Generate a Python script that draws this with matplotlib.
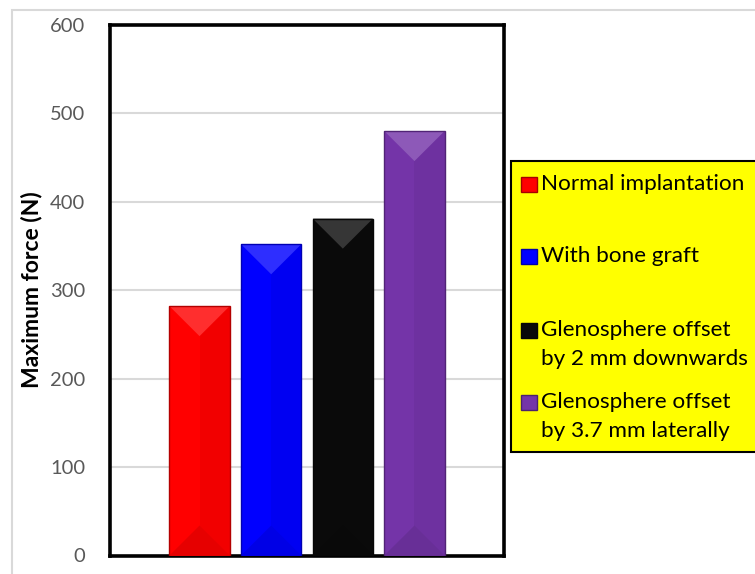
import matplotlib
matplotlib.use("Agg")
import matplotlib.pyplot as plt
import matplotlib.patches as mpatches
import matplotlib.colors as mcolors
import numpy as np

# ---- data ----
categories = ["Normal implantation", "With bone graft",
              "Glenosphere offset\nby 2 mm downwards",
              "Glenosphere offset\nby 3.7 mm laterally"]
values = [282, 352, 381, 480]
colors = ["#FF0000", "#0000FF", "#0A0A0A", "#7434A8"]
yticks = [0, 100, 200, 300, 400, 500, 600]
ylabel = "Maximum force (N)"

W, H = 755, 574
plt.rcParams['font.family'] = ['Lato', 'DejaVu Sans']
fig = plt.figure(figsize=(W / 100, H / 100), dpi=100)

def fx(px):
    return px / W

def fy(py):
    return 1 - py / H

# outer chart border (light gray, cropped)
fig.patches.append(mpatches.Rectangle((fx(12), fy(600)), fx(800), fy(10) - fy(600),
                                      transform=fig.transFigure, fill=False,
                                      edgecolor="#D9D9D9", lw=1.5, zorder=0))

ax = fig.add_axes([fx(110), fy(555.5), fx(504) - fx(110), fy(25) - fy(555.5)])
x = np.arange(len(values))
bw = 0.84
bars = ax.bar(x, values, width=bw, color=colors, zorder=3, linewidth=0)
ax.set_xlim(-1.25, 4.25)
ax.set_ylim(0, 600)
ax.set_yticks(yticks)
ax.set_yticklabels([str(t) for t in yticks], color="#595959", fontsize=14.5)
ax.tick_params(axis='y', length=0, pad=18)
ax.set_xticks([])
ax.yaxis.grid(True, color="#D9D9D9", lw=1.5, zorder=0)
ax.set_axisbelow(True)
for s in ax.spines.values():
    s.set_linewidth(2.6)
    s.set_color("black")

def mix(c, other, t):
    a = np.array(mcolors.to_rgb(c))
    b = np.array(mcolors.to_rgb(other))
    return tuple(a * (1 - t) + b * t)

# bevel-like shading derived from each bar's geometry
ax_h_px = (fy(25) - fy(555.5)) * H
d = 30 * 600 / ax_h_px
for rect, c in zip(bars, colors):
    x0 = rect.get_x(); x1 = x0 + rect.get_width(); xc = (x0 + x1) / 2
    h = rect.get_height()
    ax.add_patch(mpatches.Polygon([(xc, 0), (xc, h), (x1, h), (x1, 0)],
                                  closed=True, color=mix(c, "black", 0.05), lw=0, zorder=3.1))
    ax.add_patch(mpatches.Polygon([(x0, 0), (x1, 0), (xc, d)],
                                  closed=True, color=mix(c, "black", 0.1), lw=0, zorder=3.2))
    ax.add_patch(mpatches.Polygon([(x0, h), (x1, h), (xc, h - d)],
                                  closed=True, color=mix(c, "white", 0.18), lw=0, zorder=3.2))
    ax.add_patch(mpatches.Rectangle((x0, 0), x1 - x0, h, fill=False,
                                    edgecolor=mix(c, "black", 0.3), lw=1.0, zorder=3.3))

fig.text(fx(32), fy(290), ylabel, rotation=90, ha='center', va='center',
         fontsize=16.5, fontweight='bold', color='black')

# legend (manual, Excel-like)
fig.patches.append(mpatches.Rectangle((fx(511), fy(452)), fx(300), fy(161) - fy(452),
                                      transform=fig.transFigure, facecolor="#FFFF00",
                                      edgecolor="black", lw=1.5, zorder=5))
line_centers = [184, 256, 330, 402]
line_gap = 29.5
for lab, c, yc in zip(categories, colors, line_centers):
    fig.patches.append(mpatches.Rectangle((fx(521), fy(yc + 7.5)), fx(16), fy(yc - 7.5) - fy(yc + 7.5),
                                          transform=fig.transFigure, facecolor=c,
                                          edgecolor=mix(c, "black", 0.35), lw=1, zorder=6))
    for i, line in enumerate(lab.split("\n")):
        fig.text(fx(541), fy(yc + 5.5 + i * line_gap), line, ha='left', va='baseline',
                 fontsize=16.2, color='black', zorder=7)

fig.savefig("out.png", dpi=100)
